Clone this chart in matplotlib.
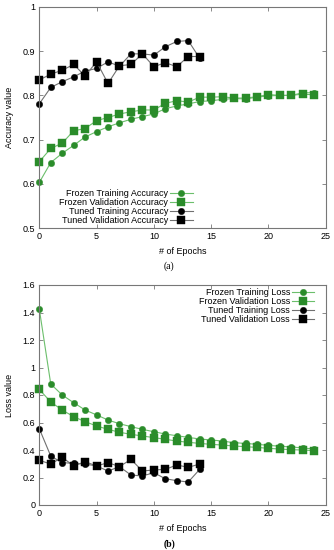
import matplotlib
matplotlib.use("Agg")
import matplotlib.pyplot as plt
import numpy as np

plt.rcParams['font.family'] = ['Liberation Sans', 'DejaVu Sans']

# ---- data ----
epochs_frozen = list(range(25))
epochs_tuned = list(range(15))

frozen_train_acc = [0.603, 0.648, 0.669, 0.687, 0.706, 0.718, 0.729, 0.738, 0.746, 0.752,
                    0.758, 0.770, 0.776, 0.781, 0.786, 0.788, 0.791, 0.793, 0.792, 0.796,
                    0.799, 0.800, 0.800, 0.806, 0.806]
frozen_val_acc = [0.650, 0.680, 0.692, 0.720, 0.725, 0.743, 0.750, 0.758, 0.763, 0.767,
                  0.767, 0.782, 0.788, 0.785, 0.796, 0.796, 0.797, 0.794, 0.794, 0.797,
                  0.802, 0.800, 0.800, 0.803, 0.801]
tuned_train_acc = [0.781, 0.818, 0.831, 0.842, 0.855, 0.861, 0.876, 0.866, 0.894, 0.894,
                   0.891, 0.910, 0.922, 0.924, 0.884]
tuned_val_acc = [0.835, 0.848, 0.857, 0.870, 0.844, 0.876, 0.827, 0.867, 0.870, 0.894,
                 0.865, 0.874, 0.865, 0.888, 0.888]

frozen_train_loss = [1.425, 0.880, 0.800, 0.744, 0.691, 0.655, 0.618, 0.591, 0.570, 0.550,
                     0.533, 0.516, 0.504, 0.492, 0.480, 0.473, 0.465, 0.453, 0.448, 0.441,
                     0.434, 0.427, 0.422, 0.415, 0.407]
frozen_val_loss = [0.841, 0.749, 0.691, 0.642, 0.606, 0.575, 0.550, 0.529, 0.514, 0.502,
                   0.490, 0.478, 0.465, 0.456, 0.448, 0.441, 0.436, 0.429, 0.424, 0.419,
                   0.412, 0.407, 0.402, 0.400, 0.395]
tuned_train_loss = [0.555, 0.356, 0.308, 0.303, 0.298, 0.284, 0.247, 0.279, 0.218, 0.211,
                    0.235, 0.191, 0.177, 0.167, 0.259]
tuned_val_loss = [0.325, 0.298, 0.347, 0.284, 0.315, 0.284, 0.308, 0.279, 0.332, 0.247,
                  0.255, 0.259, 0.291, 0.274, 0.298]

acc_labels = ["Frozen Training Accuracy", "Frozen Validation Accuracy",
              "Tuned Training Accuracy", "Tuned Validation Accuracy"]
loss_labels = ["Frozen Training Loss", "Frozen Validation Loss",
               "Tuned Training Loss", "Tuned Validation Loss"]

acc_yticks = [0.5, 0.6, 0.7, 0.8, 0.9, 1.0]
acc_yticklabels = ["0.5", "0.6", "0.7", "0.8", "0.9", "1"]
loss_yticks = [0, 0.2, 0.4, 0.6, 0.8, 1.0, 1.2, 1.4, 1.6]
loss_yticklabels = ["0", "0.2", "0.4", "0.6", "0.8", "1", "1.2", "1.4", "1.6"]
xticks = [0, 5, 10, 15, 20, 25]

# ---- style ----
GREEN = '#2a8c2a'
GREEN_LINE = '#6cbf6c'
BLACK = '#000000'
GREY_LINE = '#707070'
FRAME = '#777777'
FS = 6.5

fig = plt.figure(figsize=(3.34, 5.5), dpi=100)
W, H = 334, 550
ax1 = fig.add_axes([39.3 / W, 1 - 228 / H, 286.4 / W, 221 / H])
ax2 = fig.add_axes([39.3 / W, 1 - 505 / H, 286.4 / W, 220 / H])


def draw(ax, series, labels):
    styles = [('o', GREEN, GREEN_LINE, 4.6),
              ('s', GREEN, GREEN_LINE, 5.3),
              ('o', BLACK, GREY_LINE, 4.6),
              ('s', BLACK, GREY_LINE, 5.3)]
    handles = []
    for (x, y), (m, mc, lc, ms), lab in zip(series, styles, labels):
        h, = ax.plot(x, y, color=lc, lw=0.8, marker=m, markersize=ms,
                     markerfacecolor=mc, markeredgecolor=mc, markeredgewidth=0.3,
                     label=lab, clip_on=False)
        handles.append(h)
    for s in ax.spines.values():
        s.set_color(FRAME)
        s.set_linewidth(0.8)
    ax.tick_params(direction='in', length=3, width=0.6, color=FRAME,
                   top=True, right=True, labelsize=FS, pad=3)
    ax.set_xlim(0, 25)
    ax.set_xticks(xticks)
    ax.set_xticklabels([str(t) for t in xticks])
    ax.set_xlabel("# of Epochs", fontsize=FS, labelpad=4)
    return handles


h1 = draw(ax1, [(epochs_frozen, frozen_train_acc), (epochs_frozen, frozen_val_acc),
                (epochs_tuned, tuned_train_acc), (epochs_tuned, tuned_val_acc)], acc_labels)
ax1.set_ylim(0.5, 1.0)
ax1.set_yticks(acc_yticks)
ax1.set_yticklabels(acc_yticklabels)
ax1.set_ylabel("Accuracy value", fontsize=FS, labelpad=6)
ax1.legend(handles=h1, loc='lower right', bbox_to_anchor=(0.545, 0.0), frameon=False,
           markerfirst=False, fontsize=FS, labelspacing=0.0, handlelength=2.5,
           handletextpad=0.2, borderpad=0.1, borderaxespad=0.2)

h2 = draw(ax2, [(epochs_frozen, frozen_train_loss), (epochs_frozen, frozen_val_loss),
                (epochs_tuned, tuned_train_loss), (epochs_tuned, tuned_val_loss)], loss_labels)
ax2.set_ylim(0, 1.6)
ax2.set_yticks(loss_yticks)
ax2.set_yticklabels(loss_yticklabels)
ax2.set_ylabel("Loss value", fontsize=FS, labelpad=6)
ax2.legend(handles=h2, loc='upper right', bbox_to_anchor=(0.97, 1.0), frameon=False,
           markerfirst=False, fontsize=FS, labelspacing=0.0, handlelength=2.5,
           handletextpad=0.2, borderpad=0.1, borderaxespad=0.2)

fig.text(169 / W, 1 - 266 / H, "(a)", ha='center', va='center', fontsize=7,
         family=['Liberation Serif', 'DejaVu Serif'])
fig.text(169 / W, 1 - 544 / H, "(b)", ha='center', va='center', fontsize=7,
         fontweight='bold', family=['Liberation Serif', 'DejaVu Serif'])

fig.savefig("out.png", dpi=100)
